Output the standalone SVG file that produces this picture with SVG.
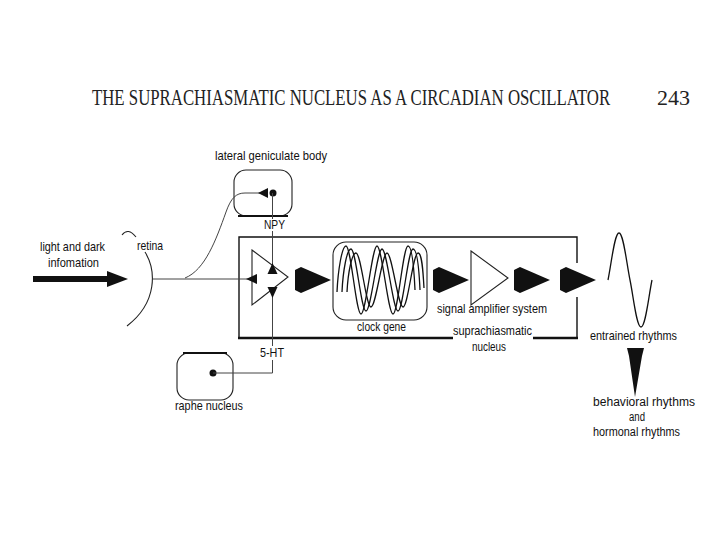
<svg xmlns="http://www.w3.org/2000/svg" width="720" height="540" viewBox="0 0 720 540">
<defs>
<style>
.t{font-family:"Liberation Sans Narrow","Liberation Sans",Arial,sans-serif;font-size:13px;fill:#111}
.s{font-size:12px}
.title{font-family:"Liberation Serif","Times New Roman",serif;fill:#222}
.ln{fill:none;stroke:#222;stroke-width:1.1}
.thin{fill:none;stroke:#444;stroke-width:1}
.fill{fill:#111;stroke:none}
.box{fill:none;stroke:#111;stroke-width:1.4}
.wave{fill:none;stroke:#111;stroke-width:1.3}
</style>
<path id="fat" d="M0,-10 L6,-13 L36,0 L6,13 L0,10 Z"/>
</defs>
<rect width="720" height="540" fill="#fff"/>

<g id="title">
<text class="title" x="92" y="77.8" font-size="16.8" transform="scale(1,1.35)">THE SUPRACHIASMATIC NUCLEUS AS A CIRCADIAN OSCILLATOR</text>
<text class="title" x="657" y="105" font-size="22">243</text>
</g>

<g id="input">
<rect class="fill" x="33" y="276" width="77" height="6"/>
<polygon class="fill" points="107,271 128,279 107,287"/>
<text class="t" x="40" y="251" textLength="65" lengthAdjust="spacingAndGlyphs">light and dark</text>
<text class="t" x="48" y="267" textLength="51" lengthAdjust="spacingAndGlyphs">infomation</text>
</g>

<g id="retina">
<path class="ln" d="M122,235 Q128,227 136,237"/>
<path class="ln" d="M145,252 C156,270 158,302 127,326"/>
<text class="t" x="137" y="250" textLength="26" lengthAdjust="spacingAndGlyphs">retina</text>
</g>

<g id="lgn">
<rect class="ln" x="234" y="170" width="58" height="46" rx="12"/>
<line x1="238" y1="216" x2="288" y2="216" stroke="#111" stroke-width="2"/>
<circle class="fill" cx="273" cy="193" r="3.5"/>
<text class="t" x="215" y="160" textLength="112" lengthAdjust="spacingAndGlyphs">lateral geniculate body</text>
<text class="t" x="264" y="229" textLength="21" lengthAdjust="spacingAndGlyphs">NPY</text>
</g>

<g id="raphe">
<rect class="ln" x="177" y="353" width="56" height="47" rx="12"/>
<line x1="183" y1="353" x2="227" y2="353" stroke="#111" stroke-width="2"/>
<circle class="fill" cx="213" cy="373" r="3.5"/>
<text class="t" x="175" y="410" textLength="68" lengthAdjust="spacingAndGlyphs">raphe nucleus</text>
<text class="t" x="260" y="357" textLength="24" lengthAdjust="spacingAndGlyphs">5-HT</text>
</g>

<g id="scn">
<path class="box" d="M239,338 L239,237 L577,237 L577,263"/>
<path class="box" d="M577,297 L577,338"/>
<line x1="238" y1="338" x2="453" y2="338" stroke="#111" stroke-width="2.5"/>
<line x1="533" y1="338" x2="578" y2="338" stroke="#111" stroke-width="2.5"/>
<text class="t" x="453" y="335" textLength="79" lengthAdjust="spacingAndGlyphs">suprachiasmatic</text>
<text class="t" x="472" y="351" textLength="34" lengthAdjust="spacingAndGlyphs">nucleus</text>
</g>

<g id="amp1">
<polygon class="ln" points="252,250 288,277 252,305"/>
</g>

<g id="clock">
<rect class="ln" x="333" y="242" width="94" height="78" rx="13"/>
<path class="wave" d="M337,292 C338,270 342,246 346,246 C351,246 356,314 361,314 C366,314 372,246 377,246 C382,246 388,314 393,314 C398,314 403,246 408,246 C412,246 414,268 415,290"/>
<path class="wave" d="M342,292 C343,270 347,249 351,249 C356,249 361,311 366,311 C371,311 377,249 382,249 C387,249 393,311 398,311 C403,311 408,249 413,249 C417,249 419,268 420,290"/>
<path class="wave" d="M347,292 C348,272 352,253 356,253 C361,253 366,307 371,307 C376,307 382,253 387,253 C392,253 398,307 403,307 C408,307 413,253 418,253 C422,253 423,270 424,288"/>
<text class="t" x="357" y="331" textLength="49" lengthAdjust="spacingAndGlyphs">clock gene</text>
</g>

<g id="amp2">
<polygon class="ln" points="471,251 508,278 471,305"/>
<text class="t" x="437" y="313" textLength="110" lengthAdjust="spacingAndGlyphs">signal amplifier system</text>
</g>

<g id="output">
<path class="wave" d="M608,280 C611.5,263 614.5,233 619,233 C623.5,233 626.5,263 630,280 C633.5,297 636.5,327 641,327 C645.5,327 648.5,297 652,280"/>
<text class="t" x="590" y="340" textLength="87" lengthAdjust="spacingAndGlyphs">entrained rhythms</text>
<path class="fill" d="M627,348 L644,348 L642,356 L635,397 L629,356 Z"/>
<text class="t s" x="593" y="406" textLength="102" lengthAdjust="spacingAndGlyphs">behavioral rhythms</text>
<text class="t s" x="629" y="421" textLength="16" lengthAdjust="spacingAndGlyphs">and</text>
<text class="t s" x="593" y="436" textLength="87" lengthAdjust="spacingAndGlyphs">hormonal rhythms</text>
</g>

<g id="connectors">
<line class="thin" x1="153" y1="279" x2="252" y2="279"/>
<polygon class="fill" points="246,279 257,274 257,284"/>
<path class="thin" d="M185,278 C205,270 216,240 226,212 C231,198 236,193 245,193 L262,193"/>
<polygon class="fill" points="258,193 268,188 268,198"/>
<line class="thin" x1="272.5" y1="193" x2="272.5" y2="219"/>
<line class="thin" x1="272.5" y1="231" x2="272.5" y2="274"/>
<polygon class="fill" points="272.5,263 267.5,274 277.5,274"/>
<line class="thin" x1="272.5" y1="287" x2="272.5" y2="346"/>
<polygon class="fill" points="272.5,298 267.5,287 277.5,287"/>
<path class="thin" d="M272.5,360 L272.5,373 L213,373"/>
<use href="#fat" x="295" y="280" class="fill"/>
<use href="#fat" x="433" y="280" class="fill"/>
<use href="#fat" x="514" y="280" class="fill"/>
<use href="#fat" x="560" y="280" class="fill"/>
</g>
</svg>
